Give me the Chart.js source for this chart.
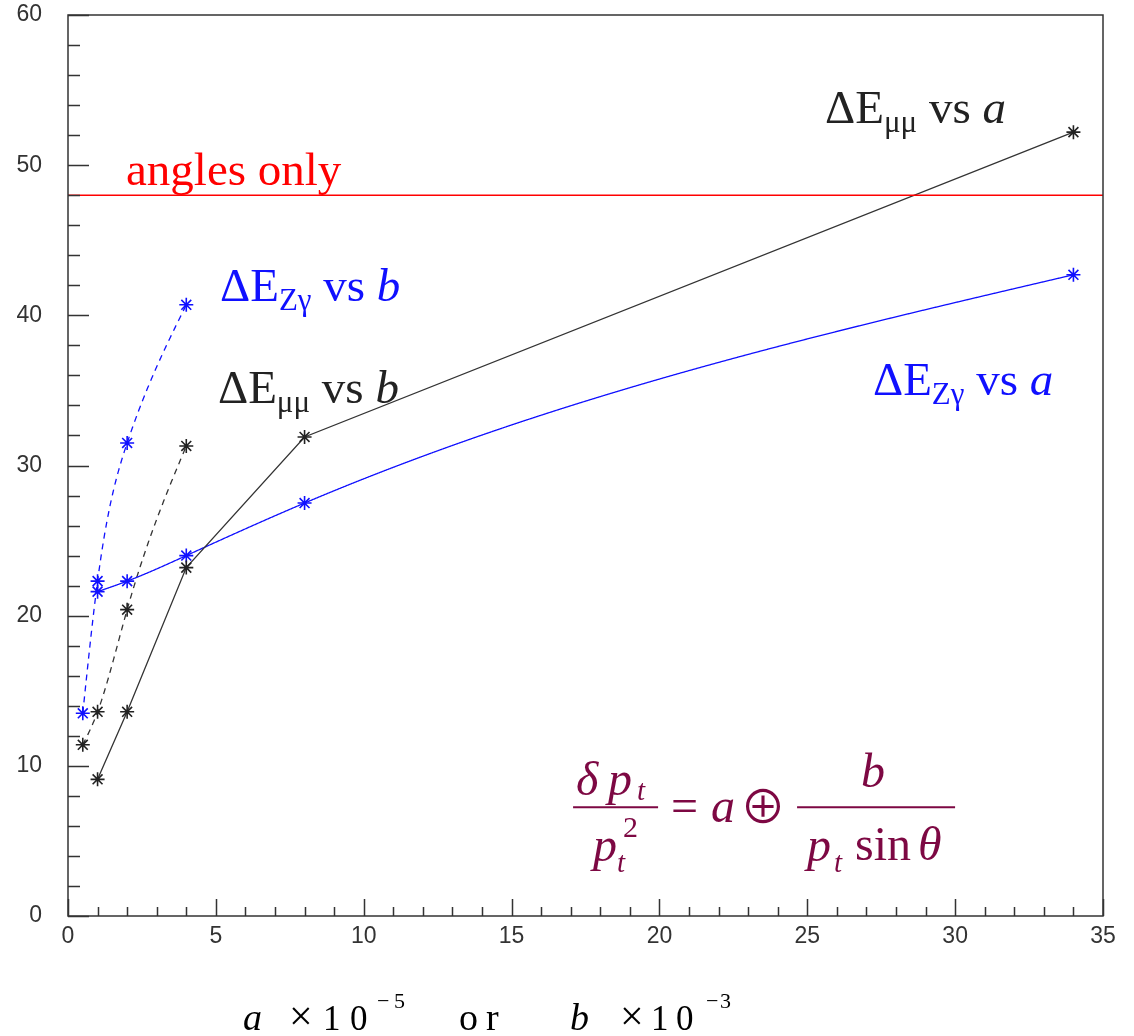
<!DOCTYPE html>
<html>
<head>
<meta charset="utf-8">
<script src="https://cdn.jsdelivr.net/npm/chart.js@4.4.1/dist/chart.umd.min.js"></script>
<style>
  html, body { margin: 0; padding: 0; background: #fff; }
</style>
</head>
<body>
<canvas id="c" width="1134" height="1036"></canvas>
<script>
// resolution parameters: a (x10^-5) and b (x10^-3)
const aValues = [1, 2, 4, 8, 34];
const bValues = [0.5, 1, 2, 4];

// mass resolution for each scan
const muVsA = [9.1, 13.6, 23.2, 31.9, 52.2];
const zgVsA = [21.6, 22.3, 24.0, 27.5, 42.7];
const muVsB = [11.4, 13.6, 20.4, 31.3];
const zgVsB = [13.5, 22.3, 31.5, 40.7];

// reference level using angles only
const anglesOnly = 48;

const xRange = [0, 35];
const yRange = [0, 60];

const BLACK = '#222';
const BLUE = '#1010ff';
const RED = '#ff0000';
const MAROON = '#7d0843';
const SERIF = '"Liberation Serif", "DejaVu Serif", serif';
const SANS = '"Liberation Sans", Arial, sans-serif';

function zip(xs, ys) {
  return xs.map((x, i) => ({ x: x, y: ys[i] }));
}

// natural cubic spline y(x) through the given points
function naturalSpline(xs, ys) {
  const n = xs.length;
  const h = [], s = [];
  for (let i = 0; i < n - 1; i++) {
    h.push(xs[i + 1] - xs[i]);
    s.push((ys[i + 1] - ys[i]) / h[i]);
  }
  const M = new Array(n).fill(0);
  const a = [], b = [], c = [], d = [];
  for (let i = 1; i < n - 1; i++) {
    a.push(h[i - 1]); b.push(2 * (h[i - 1] + h[i])); c.push(h[i]); d.push(6 * (s[i] - s[i - 1]));
  }
  const m = b.length;
  for (let i = 1; i < m; i++) {
    const w = a[i] / b[i - 1];
    b[i] -= w * c[i - 1];
    d[i] -= w * d[i - 1];
  }
  for (let i = m - 1; i >= 0; i--) {
    M[i + 1] = (d[i] - (i < m - 1 ? c[i] * M[i + 2] : 0)) / b[i];
  }
  return x => {
    let i = 0;
    while (i < n - 2 && x > xs[i + 1]) i++;
    const t = x - xs[i], u = xs[i + 1] - x, hi = h[i];
    return M[i] * u * u * u / (6 * hi) + M[i + 1] * t * t * t / (6 * hi) +
      (ys[i] / hi - M[i] * hi / 6) * u + (ys[i + 1] / hi - M[i + 1] * hi / 6) * t;
  };
}

// smooth curves for datasets flagged with `smooth`
const smoothLines = {
  id: 'smoothLines',
  beforeDatasetsDraw(chart) {
    const ctx = chart.ctx;
    const xs = chart.scales.x, ys = chart.scales.y;
    const area = chart.chartArea;
    ctx.save();
    ctx.beginPath();
    ctx.rect(area.left, area.top, area.right - area.left, area.bottom - area.top);
    ctx.clip();
    for (const ds of chart.data.datasets) {
      if (!ds.smooth) continue;
      const px = ds.data.map(p => p.x), py = ds.data.map(p => p.y);
      const f = naturalSpline(px, py);
      const x0 = xs.getPixelForValue(px[0]), x1 = xs.getPixelForValue(px[px.length - 1]);
      ctx.beginPath();
      ctx.moveTo(x0, ys.getPixelForValue(py[0]));
      for (let p = x0 + 0.5; p < x1; p += 0.5) {
        ctx.lineTo(p, ys.getPixelForValue(f(xs.getValueForPixel(p))));
      }
      ctx.lineTo(x1, ys.getPixelForValue(py[py.length - 1]));
      ctx.strokeStyle = ds.borderColor;
      ctx.lineWidth = ds.borderWidth;
      ctx.setLineDash(ds.borderDash || []);
      ctx.stroke();
    }
    ctx.restore();
  }
};

// draw a sequence of text pieces left to right
function drawRuns(ctx, x, y, parts, color) {
  ctx.save();
  ctx.fillStyle = color;
  ctx.textAlign = 'left';
  ctx.textBaseline = 'alphabetic';
  for (const p of parts) {
    ctx.font = p.f;
    x += p.gap || 0;
    ctx.fillText(p.t, x, y + (p.dy || 0));
    x += ctx.measureText(p.t).width;
  }
  ctx.restore();
}

function big(t) { return { t: t, f: '47px ' + SERIF }; }
function bigIt(t) { return { t: t, f: 'italic 47px ' + SERIF }; }
function sub(t) { return { t: t, f: '31px ' + SERIF, dy: 9 }; }

const seriesLabels = [
  { x: 1.96, y: 48.7, color: RED, parts: [big('angles only')] },
  { x: 25.6, y: 52.8, color: BLACK, parts: [big('ΔE'), sub('μμ'), big(' vs '), bigIt('a')] },
  { x: 5.14, y: 40.95, color: BLUE, parts: [big('ΔE'), sub('Zγ'), big(' vs '), bigIt('b')] },
  { x: 5.07, y: 34.15, color: BLACK, parts: [big('ΔE'), sub('μμ'), big(' vs '), bigIt('b')] },
  { x: 27.22, y: 34.7, color: BLUE, parts: [big('ΔE'), sub('Zγ'), big(' vs '), bigIt('a')] }
];

// frame, inward ticks, labels and the formula
const decorations = {
  id: 'decorations',
  afterDraw(chart) {
    const ctx = chart.ctx;
    const xs = chart.scales.x, ys = chart.scales.y;
    const area = chart.chartArea;

    ctx.save();
    ctx.strokeStyle = '#333';
    ctx.lineWidth = 1.5;
    ctx.strokeRect(area.left, area.top, area.right - area.left, area.bottom - area.top);

    ctx.beginPath();
    for (let v = xRange[0]; v <= xRange[1]; v += 1) {
      const px = Math.round(xs.getPixelForValue(v)) + 0.5;
      const len = v % 5 === 0 ? 17 : 9;
      ctx.moveTo(px, area.bottom);
      ctx.lineTo(px, area.bottom - len);
    }
    for (let v = yRange[0]; v <= yRange[1]; v += 2) {
      const py = Math.round(ys.getPixelForValue(v)) + 0.5;
      const len = v % 10 === 0 ? 21 : 12;
      ctx.moveTo(area.left, py);
      ctx.lineTo(area.left + len, py);
    }
    ctx.stroke();
    ctx.restore();

    for (const l of seriesLabels) {
      drawRuns(ctx, xs.getPixelForValue(l.x), ys.getPixelForValue(l.y), l.parts, l.color);
    }

    // resolution formula
    const ox = xs.getPixelForValue(17.08), oy = ys.getPixelForValue(7.25);
    const it = 'italic 48px ' + SERIF, rm = '48px ' + SERIF;
    const itS = 'italic 29px ' + SERIF, rmS = '30px ' + SERIF;
    const txt = (t, f, dx, dy) => {
      ctx.font = f;
      ctx.fillText(t, ox + dx, oy + dy);
    };
    ctx.save();
    ctx.fillStyle = MAROON;
    ctx.strokeStyle = MAROON;
    ctx.lineWidth = 2;
    ctx.textBaseline = 'alphabetic';
    ctx.beginPath();
    ctx.moveTo(ox, oy); ctx.lineTo(ox + 85, oy);
    ctx.moveTo(ox + 224, oy); ctx.lineTo(ox + 382, oy);
    ctx.stroke();
    txt('δ', it, 3, -12);
    txt('p', it, 35, -12);
    txt('t', itS, 64, -7);
    txt('p', it, 20, 54);
    txt('2', rmS, 50, 30);
    txt('t', itS, 44, 65);
    txt('=', rm, 98, 15);
    txt('a', it, 138, 15);
    txt('⊕', '46px "Noto Sans CJK JP", "DejaVu Serif", serif', 167, 16);
    txt('b', it, 288, -20);
    txt('p', it, 234, 54);
    txt('t', itS, 261, 65);
    txt('sin', rm, 282, 53);
    txt('θ', it, 345, 53);
    ctx.restore();

    // x axis title
    const by = 1030, sy = 1008;
    const tf = '38px ' + SERIF, tfi = 'italic 38px ' + SERIF, df = '35px ' + SERIF;
    const xf = '42px ' + SERIF, sf = '22px ' + SERIF;
    ctx.save();
    ctx.fillStyle = '#000';
    ctx.textBaseline = 'alphabetic';
    const put = (t, f, x, y) => { ctx.font = f; ctx.fillText(t, x, y); };
    put('a', tfi, 243, by);
    put('×', xf, 289, by);
    put('1', df, 323, by);
    put('0', df, 350, by);
    put('−', sf, 377, sy);
    put('5', sf, 394, sy);
    put('o', tf, 459, by);
    put('r', tf, 486, by);
    put('b', tfi, 570, by);
    put('×', xf, 620, by);
    put('1', df, 651, by);
    put('0', df, 676, by);
    put('−', sf, 706, sy);
    put('3', sf, 720, sy);
    ctx.restore();
  }
};

const markerBase = { pointStyle: 'star', pointRadius: 7, pointBorderWidth: 1.6, pointHoverRadius: 7 };

new Chart(document.getElementById('c'), {
  type: 'scatter',
  data: {
    datasets: [
      {
        label: 'angles only',
        data: [{ x: xRange[0], y: anglesOnly }, { x: xRange[1], y: anglesOnly }],
        showLine: true, borderColor: RED, borderWidth: 1.5, pointRadius: 0
      },
      Object.assign({
        label: 'ΔE_Zγ vs b',
        data: zip(bValues, zgVsB),
        showLine: false, smooth: true, borderColor: BLUE, borderWidth: 1.3, borderDash: [6, 5],
        pointBorderColor: BLUE, pointBackgroundColor: BLUE
      }, markerBase),
      Object.assign({
        label: 'ΔE_μμ vs b',
        data: zip(bValues, muVsB),
        showLine: false, smooth: true, borderColor: '#333', borderWidth: 1.3, borderDash: [6, 5],
        pointBorderColor: BLACK, pointBackgroundColor: BLACK
      }, markerBase),
      Object.assign({
        label: 'ΔE_μμ vs a',
        data: zip(aValues, muVsA),
        showLine: true, borderColor: '#333', borderWidth: 1.3,
        tension: 0, pointBorderColor: BLACK, pointBackgroundColor: BLACK
      }, markerBase),
      Object.assign({
        label: 'ΔE_Zγ vs a',
        data: zip(aValues, zgVsA),
        showLine: false, smooth: true, borderColor: BLUE, borderWidth: 1.3,
        pointBorderColor: BLUE, pointBackgroundColor: BLUE
      }, markerBase)
    ]
  },
  options: {
    responsive: false,
    animation: false,
    layout: { padding: { top: 15, right: 31, left: 0, bottom: 0 } },
    plugins: {
      legend: { display: false },
      tooltip: { enabled: false }
    },
    scales: {
      x: {
        type: 'linear',
        min: xRange[0], max: xRange[1],
        grid: { display: false, drawTicks: false },
        border: { display: false },
        ticks: { stepSize: 5, maxRotation: 0, padding: 7, color: '#333', font: { family: SANS, size: 23 } },
        afterFit: s => { s.height = 120; }
      },
      y: {
        type: 'linear',
        min: yRange[0], max: yRange[1],
        grid: { display: false, drawTicks: false },
        border: { display: false },
        ticks: { stepSize: 10, padding: 26, color: '#333', font: { family: SANS, size: 23 } },
        afterFit: s => { s.width = 68; s.paddingTop = 0; s.paddingBottom = 0; }
      }
    }
  },
  plugins: [smoothLines, decorations]
});
</script>
</body>
</html>
